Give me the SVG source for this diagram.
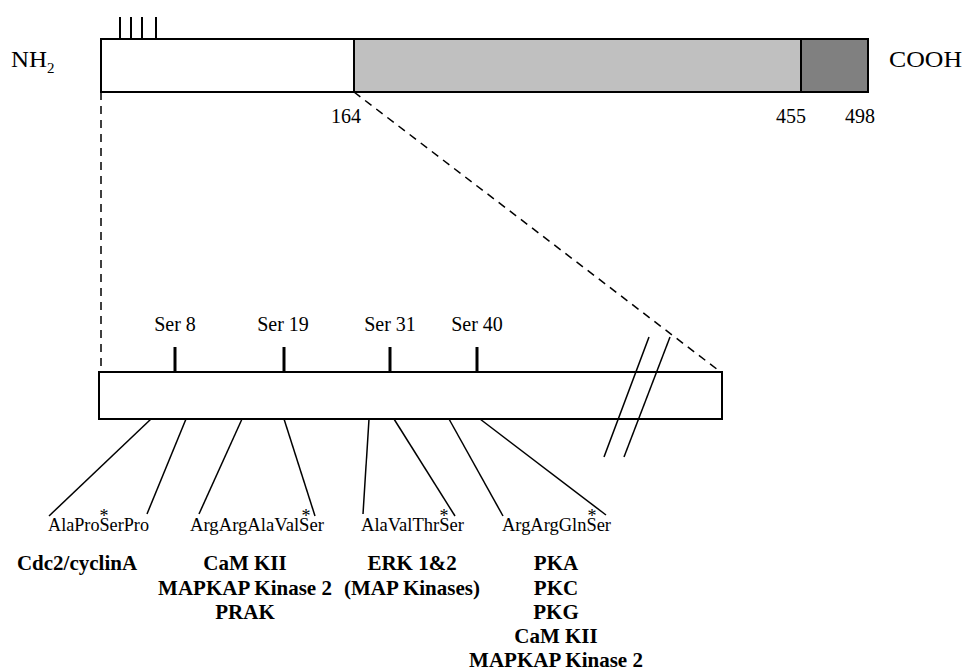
<svg xmlns="http://www.w3.org/2000/svg" width="964" height="671" viewBox="0 0 964 671">
<style>
text{font-family:"Liberation Serif","Times New Roman",serif;fill:#000}
.lbl{font-size:20px}
.big{font-size:23px}
.pep{font-size:18px}
.ast{font-size:18px;text-anchor:middle}
.kin{font-size:21px;font-weight:bold;text-anchor:middle}
.mid{text-anchor:middle}
.box{stroke:#000;stroke-width:2}
.ln{stroke:#000;stroke-width:1.5;fill:none}
.dash{stroke:#000;stroke-width:1.5;stroke-dasharray:8,6;fill:none}
.tick{stroke:#000;stroke-width:3}
</style>
<rect width="964" height="671" fill="#fff"/>
<g id="protein">
<rect class="box" x="101" y="39" width="253" height="53" fill="#fff"/>
<rect class="box" x="354" y="39" width="447" height="53" fill="#c0c0c0"/>
<rect class="box" x="801" y="39" width="67" height="53" fill="#808080"/>
<line class="box" x1="120" y1="17" x2="120" y2="39"/>
<line class="box" x1="131" y1="17" x2="131" y2="39"/>
<line class="box" x1="142" y1="17" x2="142" y2="39"/>
<line class="box" x1="156" y1="17" x2="156" y2="39"/>
<text class="big" x="11" y="67" textLength="36" lengthAdjust="spacingAndGlyphs">NH</text>
<text x="47" y="73" font-size="15">2</text>
<text class="big" x="889" y="67" textLength="73" lengthAdjust="spacingAndGlyphs">COOH</text>
<text class="lbl mid" x="346" y="123">164</text>
<text class="lbl mid" x="791" y="123">455</text>
<text class="lbl mid" x="860" y="123">498</text>
</g>
<g id="zoom-lines">
<line class="dash" x1="101" y1="92" x2="101" y2="372"/>
<line class="dash" x1="354" y1="92" x2="718" y2="370"/>
</g>
<g id="nterm">
<rect class="box" x="99" y="372" width="623" height="47" fill="#fff"/>
<line class="tick" x1="175" y1="347" x2="175" y2="372"/>
<line class="tick" x1="284" y1="347" x2="284" y2="372"/>
<line class="tick" x1="390" y1="347" x2="390" y2="372"/>
<line class="tick" x1="477" y1="347" x2="477" y2="372"/>
<text class="lbl mid" x="175" y="331">Ser 8</text>
<text class="lbl mid" x="283" y="331">Ser 19</text>
<text class="lbl mid" x="390" y="331">Ser 31</text>
<text class="lbl mid" x="477" y="331">Ser 40</text>
<line class="ln" x1="649" y1="337" x2="604" y2="457"/>
<line class="ln" x1="670" y1="337" x2="624" y2="457"/>
</g>
<g id="connectors">
<line class="ln" x1="151" y1="419" x2="49" y2="516"/>
<line class="ln" x1="186" y1="419" x2="147" y2="514"/>
<line class="ln" x1="242" y1="419" x2="199" y2="514"/>
<line class="ln" x1="284" y1="419" x2="315" y2="516"/>
<line class="ln" x1="369" y1="419" x2="363" y2="514"/>
<line class="ln" x1="394" y1="419" x2="455" y2="516"/>
<line class="ln" x1="449" y1="419" x2="503" y2="516"/>
<line class="ln" x1="480" y1="419" x2="606" y2="515"/>
</g>
<g id="peptides">
<text class="pep" x="48" y="531" textLength="101" lengthAdjust="spacingAndGlyphs">AlaProSerPro</text>
<text class="pep" x="190" y="531" textLength="134" lengthAdjust="spacingAndGlyphs">ArgArgAlaValSer</text>
<text class="pep" x="361" y="531" textLength="103" lengthAdjust="spacingAndGlyphs">AlaValThrSer</text>
<text class="pep" x="502" y="531" textLength="109" lengthAdjust="spacingAndGlyphs">ArgArgGlnSer</text>
<text class="ast" x="104" y="522">*</text>
<text class="ast" x="306" y="522">*</text>
<text class="ast" x="444" y="522">*</text>
<text class="ast" x="592" y="522">*</text>
</g>
<g id="kinases-1">
<text class="kin" x="77" y="570">Cdc2/cyclinA</text>
</g>
<g id="kinases-2">
<text class="kin" x="245" y="570">CaM KII</text>
<text class="kin" x="245" y="595">MAPKAP Kinase 2</text>
<text class="kin" x="245" y="619">PRAK</text>
</g>
<g id="kinases-3">
<text class="kin" x="412" y="570">ERK 1&amp;2</text>
<text class="kin" x="412" y="595">(MAP Kinases)</text>
</g>
<g id="kinases-4">
<text class="kin" x="556" y="570">PKA</text>
<text class="kin" x="556" y="595">PKC</text>
<text class="kin" x="556" y="619">PKG</text>
<text class="kin" x="556" y="643">CaM KII</text>
<text class="kin" x="556" y="667">MAPKAP Kinase 2</text>
</g>
</svg>
